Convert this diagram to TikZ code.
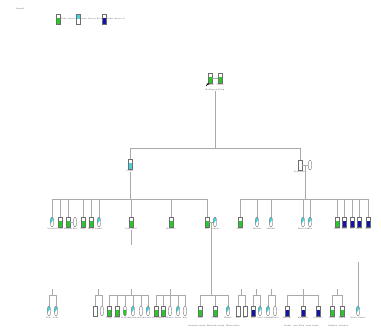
\documentclass[tikz,border=0pt]{standalone}
\usetikzlibrary{shapes.geometric,calc,arrows.meta}
\definecolor{pgreen}{RGB}{40,200,40}
\definecolor{pcyan}{RGB}{70,210,215}
\definecolor{pblue}{RGB}{20,20,170}
\definecolor{pline}{RGB}{170,170,170}
\definecolor{pedge}{RGB}{110,110,110}
\tikzset{
  x=1pt, y=-1pt,
  sym/.style={draw=pedge, line width=0.35pt, inner sep=0pt, minimum width=3.6pt, minimum height=10pt, fill=white},
  mrect/.style={sym, rectangle},
  fovl/.style={sym, ellipse},
  lowfill/.style={path picture={\fill[#1] (path picture bounding box.south west) rectangle ([yshift=6pt]path picture bounding box.south east);}},
  topfill/.style={path picture={\fill[#1] (path picture bounding box.north west) rectangle ([yshift=-5pt]path picture bounding box.north east);}},
  diagfill/.style={path picture={\fill[#1] (path picture bounding box.north west) -- (path picture bounding box.north east) -- ([yshift=-2pt]path picture bounding box.north east) -- ([yshift=3pt]path picture bounding box.south west) -- cycle;}},
  conn/.style={draw=pline, line width=0.5pt},
  lab/.style={font=\fontsize{1.9}{2.1}\selectfont, inner sep=0pt, text=black!80},
}
\newcommand\Per[5]{\node[#2] (#1) at (#3,#4) {}; \node[lab,below=0.9pt] (#1l) at (#1.south) {#5};}
\begin{document}
\begin{tikzpicture}
\useasboundingbox[fill=white] (0,0) rectangle (381,329);

% legend
\node[lab] (legtitle) at (20,9) {Legend};
\node[mrect,lowfill=pgreen] (lg1) at (58,19) {};
\node[lab,anchor=west] (lg1t) at (61,19) {Some disease A};
\node[mrect,topfill=pcyan] (lg2) at (78,19) {};
\node[lab,anchor=west] (lg2t) at (81,19) {Some disease B carrier};
\node[mrect,lowfill=pblue] (lg3) at (104,19) {};
\node[lab,anchor=west] (lg3t) at (107,19) {Some disease C};

% generation 1
\Per{ga}{mrect,lowfill=pgreen}{210}{78}{Ramón}
\Per{gb}{mrect,lowfill=pgreen}{220}{78}{Teresa}
\draw[conn] (ga.east) -- (gb.west);
\node[lab] (gc) at (215,90) {Rodríguez Pérez};
\coordinate (arrT) at (209,83);
\coordinate (arrS) at (206,86);
\draw[-{Latex[length=2.2pt,width=2pt]}, black, line width=0.6pt] (arrS) -- (arrT);

% generation 2
\coordinate (sibB) at (215,148);
\Per{ha}{mrect,lowfill=pcyan}{130}{164}{Isabel}
\Per{hb}{mrect}{300}{165}{Fernández}
\node[fovl] (hc) at (310,165) {};
\draw[conn] (hb.east) -- (hc.west);
\draw[conn] (gc.south) -- (gc.south |- sibB);
\draw[conn] (ha.north |- sibB) -- (hb.north |- sibB);
\draw[conn] (ha.north |- sibB) -- (ha.north);
\draw[conn] (hb.north |- sibB) -- (hb.north);

% generation 3 left
\coordinate (sibL) at (130,199);
\Per{c1}{fovl,diagfill=pcyan}{52}{222}{Lourdes}
\Per{c2}{mrect,lowfill=pgreen}{60}{222}{Lucas}
\Per{c3}{mrect,lowfill=pgreen}{68}{222}{Ramón}
\Per{c4}{fovl}{75}{222}{Bea}
\Per{c5}{mrect,lowfill=pgreen}{83}{222}{Luis}
\Per{c6}{mrect,lowfill=pgreen}{91}{222}{Diego}
\Per{c7}{fovl,diagfill=pcyan}{99}{222}{Louise}
\Per{c8}{mrect,lowfill=pgreen}{131}{222}{Luis Raúl}
\Per{c9}{mrect,lowfill=pgreen}{171}{222}{Roberto}
\Per{c10}{mrect,lowfill=pgreen}{207}{222}{Lili}
\Per{c11}{fovl,diagfill=pcyan}{215}{222}{Pamela}
\draw[conn] (hal.south) -- (hal.south |- sibL);
\draw[conn] (c1.north |- sibL) -- (c10.north |- sibL);
\foreach \n in {c1,c2,c3,c5,c6,c7,c8,c9,c10}{\draw[conn] (\n.north |- sibL) -- (\n.north);}
\draw[conn] (c3.east) -- (c4.west);
\draw[conn] (c10.east) -- (c11.west);

% generation 3 right
\coordinate (sibR) at (305,199);
\coordinate (mR) at ($(hb.east)!0.5!(hc.west)$);
\draw[conn] (mR) -- (mR |- sibR);
\Per{d1}{mrect,lowfill=pgreen}{240}{222}{Mario}
\Per{d2}{fovl,diagfill=pcyan}{257}{222}{Marina}
\Per{d3}{fovl,diagfill=pcyan}{271}{222}{Maribel}
\Per{d4}{fovl,diagfill=pcyan}{303}{222}{Mercedes}
\Per{d5}{fovl,diagfill=pcyan}{310}{222}{Eva}
\Per{d6}{mrect,lowfill=pgreen}{337}{222}{Pablo}
\Per{d7}{mrect,lowfill=pblue}{344}{222}{Juan}
\Per{d8}{mrect,lowfill=pblue}{352}{222}{Gil}
\Per{d9}{mrect,lowfill=pblue}{359}{222}{Raúl}
\Per{d10}{mrect,lowfill=pblue}{368}{222}{Nano}
\draw[conn] (d1.north |- sibR) -- (d10.north |- sibR);
\foreach \n in {d1,d2,d3,d4,d5,d6,d7,d8,d9,d10}{\draw[conn] (\n.north |- sibR) -- (\n.north);}

% generation 4
\coordinate (sib4) at (200,295);
\coordinate (tick4) at (200,289);
% A
\Per{e1}{fovl,diagfill=pcyan}{49}{311}{Dale}
\Per{e2}{fovl,diagfill=pcyan}{56}{311}{Dale}
\draw[conn] (e1.north |- sib4) -- (e2.north |- sib4);
\foreach \n in {e1,e2}{\draw[conn] (\n.north |- sib4) -- (\n.north);}
\coordinate (tA) at ($(e1.north)!0.5!(e2.north)$);
\draw[conn] (tA |- sib4) -- (tA |- tick4);
% B1
\Per{f1}{mrect}{95}{311}{}
\Per{f2}{fovl}{102}{311}{}
\draw[conn] (f1.north |- sib4) -- (f2.north |- sib4);
\foreach \n in {f1,f2}{\draw[conn] (\n.north |- sib4) -- (\n.north);}
\coordinate (tB) at ($(f1.north)!0.5!(f2.north)$);
\draw[conn] (tB |- sib4) -- (tB |- tick4);
% B2
\Per{f3}{mrect,lowfill=pgreen}{109}{311}{Jorge}
\Per{f4}{mrect,lowfill=pgreen}{117}{311}{Pablo}
\Per{f5}{fovl,lowfill=pgreen}{125}{311}{Natalia}
\Per{f6}{fovl,diagfill=pcyan}{133}{311}{Mariana}
\Per{f7}{fovl}{141}{311}{Sarah}
\Per{f8}{fovl,diagfill=pcyan}{148}{311}{Laura}
\draw[conn] (f3.north |- sib4) -- (f8.north |- sib4);
\foreach \n in {f3,f4,f5,f6,f7,f8}{\draw[conn] (\n.north |- sib4) -- (\n.north);}
\coordinate (c8low) at (131,245);
\draw[conn] (c8l.south) -- (c8l.south |- c8low);
\draw[conn] (c8l.south |- sib4) -- (c8l.south |- tick4);
% B3
\Per{f9}{mrect,lowfill=pgreen}{156}{311}{Daniel}
\Per{f10}{mrect,lowfill=pgreen}{163}{311}{Matías}
\Per{f11}{fovl}{170}{311}{Teresa}
\Per{f12}{fovl,diagfill=pcyan}{178}{311}{Lucía}
\Per{f13}{fovl}{185}{311}{Ana}
\draw[conn] (f9.north |- sib4) -- (f13.north |- sib4);
\foreach \n in {f9,f10,f11,f12,f13}{\draw[conn] (\n.north |- sib4) -- (\n.north);}
\draw[conn] (f11.north |- sib4) -- (f11.north |- tick4);
% D
\Per{g1}{mrect,lowfill=pgreen}{200}{311}{Max}
\Per{g2}{mrect,lowfill=pgreen}{215}{311}{Pedro}
\Per{g3}{fovl,diagfill=pcyan}{228}{311}{Eliana}
\node[lab] (g4) at (214,326) {Lisandro Ortiz\quad Bernardo Ortiz\quad Elena Ortiz};
\draw[conn] (g1.north |- sib4) -- (g3.north |- sib4);
\foreach \n in {g1,g2,g3}{\draw[conn] (\n.north |- sib4) -- (\n.north);}
\coordinate (m3) at ($(c10.east)!0.5!(c11.west)$);
\draw[conn] (m3) -- (m3 |- sib4);
% E
\Per{k1}{mrect}{238}{311}{Tito}
\Per{k2}{mrect}{245}{311}{Wil}
\draw[conn] (k1.north |- sib4) -- (k2.north |- sib4);
\foreach \n in {k1,k2}{\draw[conn] (\n.north |- sib4) -- (\n.north);}
\coordinate (tE) at ($(k1.north)!0.5!(k2.north)$);
\draw[conn] (tE |- sib4) -- (tE |- tick4);
% F
\Per{k3}{mrect,lowfill=pblue}{253}{311}{Gus}
\Per{k4}{fovl,diagfill=pcyan}{260}{311}{Sara}
\draw[conn] (k3.north |- sib4) -- (k4.north |- sib4);
\foreach \n in {k3,k4}{\draw[conn] (\n.north |- sib4) -- (\n.north);}
\coordinate (tF) at ($(k3.north)!0.5!(k4.north)$);
\draw[conn] (tF |- sib4) -- (tF |- tick4);
% G
\Per{k5}{fovl,diagfill=pcyan}{268}{311}{Sabrina}
\Per{k6}{fovl}{275}{311}{Gloria}
\draw[conn] (k5.north |- sib4) -- (k6.north |- sib4);
\foreach \n in {k5,k6}{\draw[conn] (\n.north |- sib4) -- (\n.north);}
\coordinate (tG) at ($(k5.north)!0.5!(k6.north)$);
\draw[conn] (tG |- sib4) -- (tG |- tick4);
% H
\Per{k7}{mrect,lowfill=pblue}{287}{311}{Alfredo}
\Per{k8}{mrect,lowfill=pblue}{303}{311}{Bernardo}
\Per{k9}{mrect,lowfill=pblue}{318}{311}{Leandro}
\node[lab] (k10) at (301,326) {Cecilia\quad Ana Díaz\quad Juan Ortiz};
\draw[conn] (k7.north |- sib4) -- (k9.north |- sib4);
\foreach \n in {k7,k8,k9}{\draw[conn] (\n.north |- sib4) -- (\n.north);}
\draw[conn] (k8.north |- sib4) -- (k8.north |- tick4);
% I
\Per{k11}{mrect,lowfill=pgreen}{332}{311}{Lucas}
\Per{k12}{mrect,lowfill=pgreen}{342}{311}{Tomás}
\node[lab] (k13) at (338,326) {Sánchez\quad Sánchez};
\draw[conn] (k11.north |- sib4) -- (k12.north |- sib4);
\foreach \n in {k11,k12}{\draw[conn] (\n.north |- sib4) -- (\n.north);}
\coordinate (tI) at ($(k11.north)!0.5!(k12.north)$);
\draw[conn] (tI |- sib4) -- (tI |- tick4);
% J
\Per{k14}{fovl,diagfill=pcyan}{358}{311}{María Castro}
\coordinate (tJ) at (358,262);
\draw[conn] (k14.north) -- (tJ);
\end{tikzpicture}
\end{document}
